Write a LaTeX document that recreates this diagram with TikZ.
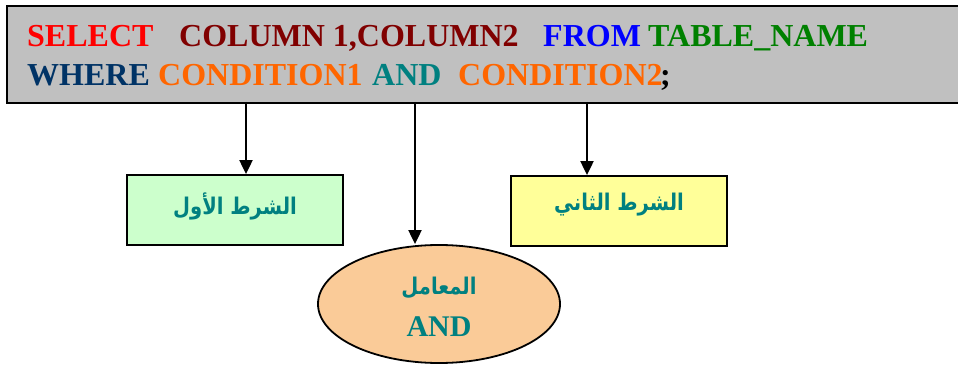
\documentclass[tikz,border=0pt]{standalone}
\usepackage{fontspec}
\setmainfont{Liberation Serif}
\newfontfamily\arabicfont[Script=Arabic, FakeStretch=0.85]{DejaVu Sans}
\TeXXeTstate=1
\usetikzlibrary{shapes.geometric,arrows.meta}
\definecolor{sqlred}{HTML}{FF0000}
\definecolor{sqlmaroon}{HTML}{800000}
\definecolor{sqlblue}{HTML}{0000FF}
\definecolor{sqlgreen}{HTML}{008000}
\definecolor{sqlnavy}{HTML}{003366}
\definecolor{sqlorange}{HTML}{FF6600}
\definecolor{sqlteal}{HTML}{008080}
\definecolor{boxgray}{HTML}{C0C0C0}
\definecolor{boxgreen}{HTML}{CCFFCC}
\definecolor{boxyellow}{HTML}{FFFF99}
\definecolor{boxpeach}{HTML}{FACB98}
\tikzset{
  kw/.style={anchor=base west, inner sep=0pt, font=\fontsize{32}{32}\selectfont\bfseries},
  condbox/.style={draw=black, line width=1.8pt, minimum width=216pt, minimum height=70pt, inner sep=0pt},
  artext/.style={text=sqlteal, font=\arabicfont\fontsize{23}{27}\selectfont\bfseries},
  link/.style={draw=black, line width=2pt, -{Triangle[length=14pt,width=13pt]}}
}
\begin{document}
\begin{tikzpicture}[x=1pt,y=-1pt]
\useasboundingbox (0,0) rectangle (958,366);
% statement panel
\node[draw=black, line width=2.2pt, fill=boxgray, anchor=north west, minimum width=970pt, minimum height=97pt, inner sep=0pt] (panel) at (6,5) {};
% first line of the statement
\node[kw, text=sqlred]    (select) at (27,47)  {SELECT};
\node[kw, text=sqlmaroon] (cols)   at (179,47) {COLUMN 1,COLUMN2};
\node[kw, text=sqlblue]   (from)   at (543,47) {FROM};
\node[kw, text=sqlgreen]  (tname)  at (648,47) {TABLE\_NAME};
% second line of the statement
\node[kw, text=sqlnavy]   (where)  at (27,86)  {WHERE};
\node[kw, text=sqlorange] (cond1)  at (158,86) {CONDITION1};
\node[kw, text=sqlteal]   (andop)  at (372,86) {AND};
\node[kw, text=sqlorange] (cond2)  at (458,86) {CONDITION2};
\node[kw, text=black]     (semi)   at (660,86) {;};
% condition boxes and operator
\node[condbox, fill=boxgreen]  (first)  at (235,210) {};
\node[artext] (firstlbl) at (235,206) {\beginR الشرط الأول\endR};
\node[condbox, fill=boxyellow] (second) at (619,211) {};
\node[artext] (secondlbl) at (619,205) {\beginR الشرط الثاني\endR};
\node[ellipse, draw=black, line width=1.8pt, fill=boxpeach, minimum width=242pt, minimum height=118pt, inner sep=0pt] (op) at (439,304) {};
\node[artext] (oplbl) at (439,288) {\beginR المعامل\endR};
\node[text=sqlteal, inner sep=0pt, font=\fontsize{30}{30}\selectfont\bfseries] (opand) at (439,327) {AND};
% connectors
\coordinate (s1) at (246,102);
\coordinate (s2) at (415,102);
\coordinate (s3) at (587,102);
\draw[link] (s1) -- (s1 |- first.north);
\draw[link] (s2) -- (s2 |- op.north);
\draw[link] (s3) -- (s3 |- second.north);
\end{tikzpicture}
\end{document}
